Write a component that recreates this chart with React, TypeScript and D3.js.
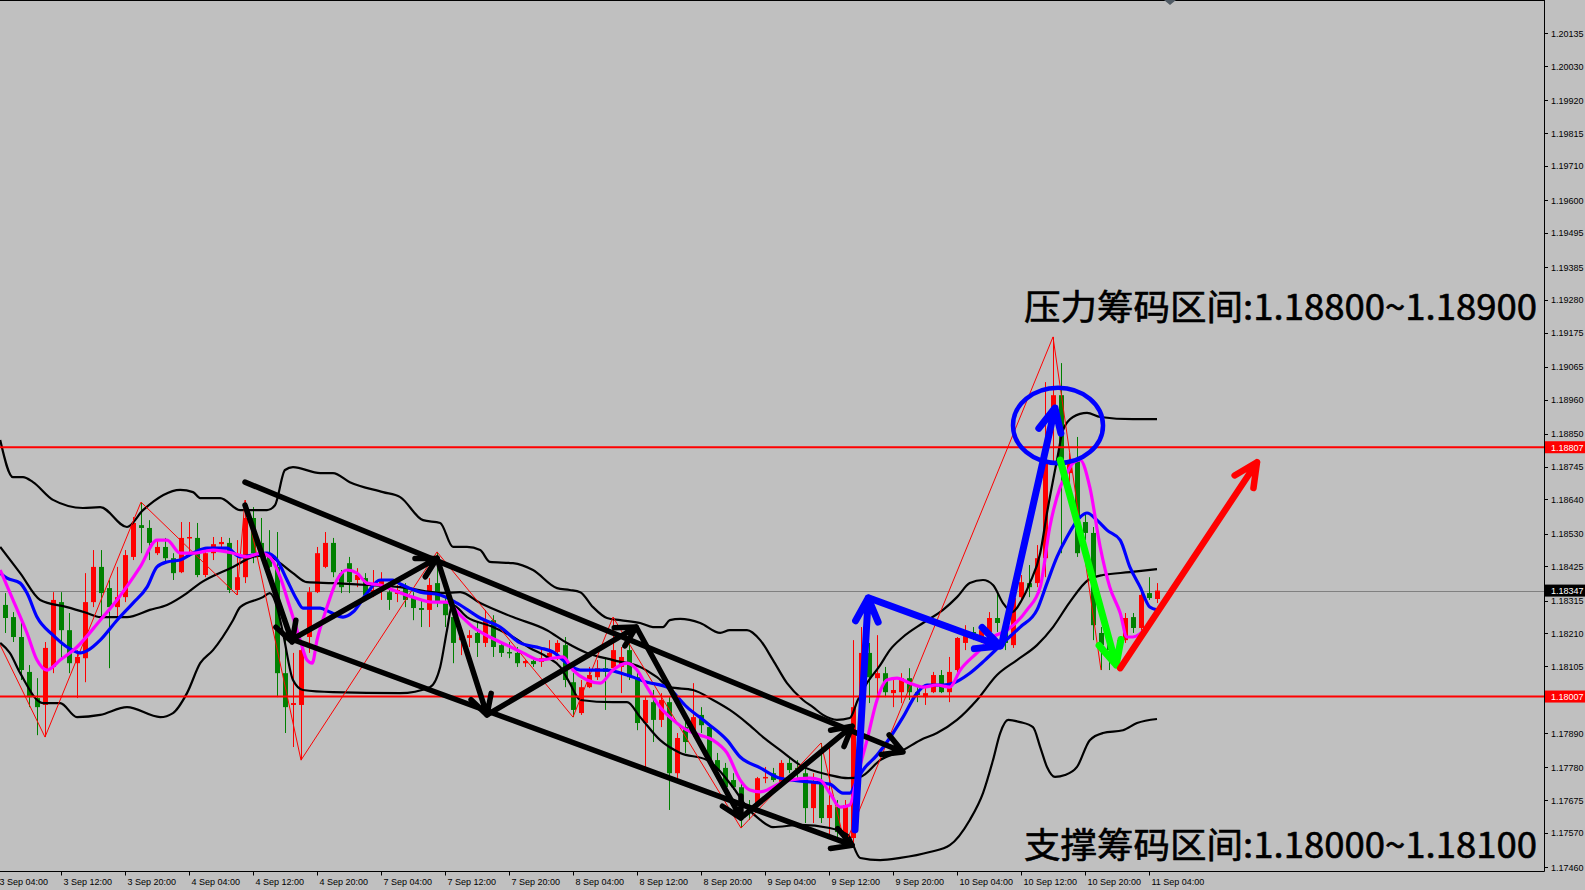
import React, { useEffect } from 'react';
import * as d3 from 'd3';

const W = 1585, H = 890;
const PLOT_R = 1544, PLOT_B = 871.5;

// ---- hourly EURUSD bars (index 0 = 3 Sep 05:00) ----
const barOpen = [1.18301,1.18262,1.18198,1.18086,1.18002,1.17980,1.18102,1.18310,1.18220,1.18114,
1.18130,1.18310,1.18423,1.18355,1.18294,1.18326,1.18455,1.18557,1.18548,1.18467,
1.18487,1.18451,1.18406,1.18516,1.18516,1.18397,1.18467,1.18496,1.18500,1.18349,
1.18390,1.18580,1.18500,1.18467,1.18423,1.18082,1.17980,1.17980,1.18198,1.18342,
1.18423,1.18500,1.18403,1.18435,1.18381,1.18387,1.18339,1.18358,1.18342,1.18336,
1.18358,1.18326,1.18291,1.18285,1.18371,1.18307,1.18262,1.18188,1.18195,1.18211,
1.18179,1.18252,1.18172,1.18150,1.18147,1.18114,1.18121,1.18118,1.18130,1.18150,
1.18172,1.18053,1.17954,1.18037,1.18069,1.18098,1.18098,1.18102,1.18156,1.18069,
1.17922,1.17989,1.17932,1.17989,1.17761,1.17909,1.17890,1.17948,1.17909,1.17803,
1.17778,1.17739,1.17716,1.17643,1.17665,1.17745,1.17761,1.17733,1.17794,1.17778,
1.17761,1.17649,1.17733,1.17617,1.17652,1.17553,1.17553,1.17973,1.18147,1.18066,
1.18082,1.18018,1.18021,1.18066,1.18021,1.18005,1.18021,1.18076,1.18021,1.18092,
1.18179,1.18214,1.18198,1.18214,1.18259,1.18220,1.18172,1.18326,1.18371,1.18371,
1.18451,1.18920,1.18974,1.18724,1.18766,1.18567,1.18532,1.18211,1.18182,1.18140,
1.18188,1.18262,1.18227,1.18339,1.18320];

const barHigh = [1.18339,1.18278,1.18252,1.18108,1.18066,1.18182,1.18342,1.18342,1.18275,1.18156,
1.18403,1.18477,1.18477,1.18381,1.18423,1.18477,1.18583,1.18631,1.18573,1.18509,
1.18516,1.18467,1.18567,1.18567,1.18564,1.18487,1.18519,1.18519,1.18516,1.18509,
1.18637,1.18615,1.18580,1.18541,1.18535,1.18211,1.18147,1.18179,1.18358,1.18487,
1.18535,1.18516,1.18413,1.18455,1.18419,1.18403,1.18413,1.18406,1.18365,1.18365,
1.18371,1.18342,1.18317,1.18387,1.18471,1.18323,1.18275,1.18220,1.18220,1.18243,
1.18285,1.18268,1.18182,1.18182,1.18166,1.18124,1.18130,1.18156,1.18188,1.18188,
1.18198,1.18082,1.18060,1.18102,1.18124,1.18134,1.18262,1.18166,1.18179,1.18082,
1.18005,1.18028,1.18018,1.18005,1.17890,1.17932,1.18050,1.17973,1.17922,1.17826,
1.17794,1.17761,1.17729,1.17675,1.17749,1.17781,1.17778,1.17803,1.17813,1.17803,
1.17781,1.17761,1.17858,1.17845,1.17675,1.17675,1.18188,1.18230,1.18179,1.18204,
1.18102,1.18069,1.18082,1.18098,1.18037,1.18034,1.18086,1.18092,1.18134,1.18198,
1.18236,1.18230,1.18236,1.18278,1.18339,1.18230,1.18349,1.18397,1.18429,1.18493,
1.19016,1.19161,1.19077,1.18788,1.18840,1.18596,1.18551,1.18230,1.18220,1.18188,
1.18275,1.18275,1.18342,1.18390,1.18371];

const barLow = [1.18211,1.18182,1.18060,1.17973,1.17883,1.17877,1.18082,1.18124,1.18082,1.18002,
1.18053,1.18294,1.18252,1.18098,1.18252,1.18310,1.18445,1.18467,1.18445,1.18461,
1.18435,1.18381,1.18403,1.18455,1.18390,1.18390,1.18445,1.18483,1.18339,1.18333,
1.18371,1.18435,1.18445,1.18419,1.18005,1.17890,1.17845,1.17803,1.18147,1.18339,
1.18419,1.18390,1.18339,1.18339,1.18358,1.18326,1.18326,1.18317,1.18285,1.18310,
1.18294,1.18252,1.18230,1.18230,1.18294,1.18230,1.18114,1.18140,1.18166,1.18134,
1.18166,1.18134,1.18134,1.18130,1.18102,1.18102,1.18102,1.18102,1.18124,1.18124,
1.18037,1.17941,1.17948,1.18034,1.18060,1.17964,1.18086,1.18018,1.18060,1.17899,
1.17781,1.17861,1.17909,1.17643,1.17739,1.17826,1.17877,1.17890,1.17794,1.17749,
1.17697,1.17707,1.17585,1.17611,1.17652,1.17729,1.17733,1.17716,1.17761,1.17739,
1.17601,1.17601,1.17601,1.17556,1.17556,1.17530,1.17524,1.17941,1.17986,1.17996,
1.18005,1.17973,1.17986,1.17996,1.17989,1.17980,1.18018,1.18018,1.17989,1.18082,
1.18156,1.18188,1.18179,1.18204,1.18214,1.18156,1.18163,1.18317,1.18326,1.18358,
1.18390,1.18759,1.18467,1.18660,1.18455,1.18509,1.18188,1.18092,1.18092,1.18098,
1.18179,1.18211,1.18214,1.18317,1.18307];

const barClose = [1.18259,1.18198,1.18092,1.18005,1.17973,1.18163,1.18317,1.18220,1.18114,1.18134,
1.18310,1.18423,1.18339,1.18294,1.18326,1.18461,1.18564,1.18548,1.18500,1.18487,
1.18451,1.18403,1.18516,1.18519,1.18397,1.18467,1.18496,1.18503,1.18349,1.18390,
1.18580,1.18467,1.18455,1.18423,1.18082,1.17973,1.17986,1.18156,1.18342,1.18467,
1.18500,1.18406,1.18358,1.18374,1.18397,1.18333,1.18349,1.18381,1.18317,1.18349,
1.18317,1.18291,1.18285,1.18365,1.18307,1.18268,1.18179,1.18198,1.18204,1.18179,
1.18252,1.18166,1.18147,1.18147,1.18114,1.18121,1.18111,1.18130,1.18147,1.18179,
1.18060,1.17964,1.18037,1.18076,1.18098,1.18086,1.18156,1.18134,1.18069,1.17922,
1.17996,1.17932,1.17996,1.17761,1.17874,1.17861,1.17941,1.17915,1.17803,1.17771,
1.17716,1.17716,1.17665,1.17633,1.17745,1.17749,1.17739,1.17794,1.17771,1.17761,
1.17649,1.17733,1.17617,1.17659,1.17572,1.17659,1.17973,1.18147,1.18069,1.18082,
1.18021,1.18028,1.18066,1.18021,1.18012,1.18018,1.18076,1.18021,1.18086,1.18195,
1.18214,1.18198,1.18220,1.18259,1.18243,1.18179,1.18323,1.18374,1.18358,1.18451,
1.18766,1.18974,1.18766,1.18766,1.18467,1.18532,1.18236,1.18172,1.18156,1.18156,
1.18259,1.18227,1.18333,1.18323,1.18347];

// ---- indicator lines: [bar index, price] vertices ----
const upperBand = [[-0.6,1.18830],[1,1.18711],[2.25,1.18711],[3.5,1.18695],[6,1.18638],[9.75,1.18612],[11.9,1.18615],[15.25,1.18551],[17.25,1.18605],[21.9,1.18670],[23.5,1.18663],[24.4,1.18644],[26.9,1.18644],[29.4,1.18605],[32.75,1.18605],[33.75,1.18621],[35,1.18734],[36,1.18743],[39.4,1.18724],[41,1.18724],[43.1,1.18695],[47.25,1.18663],[49.4,1.18647],[52.25,1.18573],[54.4,1.18564],[56,1.18487],[57.75,1.18487],[59.4,1.18477],[60.6,1.18439],[63.5,1.18435],[66,1.18413],[69,1.18355],[70.6,1.18349],[71.9,1.18342],[73.5,1.18294],[75.25,1.18259],[76.9,1.18252],[79.4,1.18243],[81,1.18230],[82.25,1.18230],[83.1,1.18252],[84.4,1.18256],[86.9,1.18243],[89.4,1.18211],[90.6,1.18220],[92.75,1.18220],[94.4,1.18188],[96,1.18124],[97.75,1.18050],[99.75,1.17996],[101,1.17973],[102.25,1.17948],[104,1.17932],[105.6,1.17938],[106.6,1.17996],[107.6,1.18044],[109.4,1.18108],[110.6,1.18156],[112.25,1.18198],[114.75,1.18243],[117.25,1.18285],[119,1.18326],[120.6,1.18371],[122.25,1.18381],[123.5,1.18365],[124.75,1.18307],[125.9,1.18278],[127.1,1.18317],[128.1,1.18371],[129.4,1.18467],[130.25,1.18596],[131.5,1.18766],[132.25,1.18862],[133.5,1.18904],[135.25,1.18917],[136.9,1.18904],[141,1.18897],[144,1.18897]];

const middleBand = [[-0.6,1.18487],[1.9,1.18403],[4.4,1.18317],[7.75,1.18294],[10.25,1.18275],[11.9,1.18262],[15.25,1.18262],[18.1,1.18285],[20.25,1.18301],[22.75,1.18339],[24.4,1.18371],[28.5,1.18423],[31,1.18455],[32.75,1.18461],[34.4,1.18435],[36,1.18403],[37.75,1.18374],[41,1.18371],[45.25,1.18365],[49.4,1.18358],[54.75,1.18339],[56.9,1.18342],[59.4,1.18307],[63.5,1.18262],[67.75,1.18220],[70.25,1.18179],[72.75,1.18147],[76,1.18124],[79.4,1.18102],[81.5,1.18069],[83.1,1.18037],[86,1.18028],[88.5,1.17996],[90.6,1.17964],[92.75,1.17922],[94.75,1.17877],[96.9,1.17835],[99.4,1.17787],[103.1,1.17755],[105.4,1.17745],[106.9,1.17749],[109.4,1.17803],[112.25,1.17835],[114.4,1.17867],[116.5,1.17890],[119,1.17932],[121.5,1.17996],[124,1.18076],[126.5,1.18124],[129,1.18172],[131,1.18230],[133.1,1.18310],[135.4,1.18381],[137.25,1.18397],[140.6,1.18406],[144,1.18416]];

const lowerBand = [[-0.6,1.18179],[0.6,1.18147],[1.9,1.18082],[4.75,1.17986],[6.9,1.17986],[9,1.17941],[11.9,1.17948],[15.25,1.17973],[19.4,1.17941],[21,1.17954],[22.75,1.18018],[24.4,1.18114],[26,1.18156],[28.5,1.18252],[29.4,1.18294],[32.25,1.18326],[33.1,1.18339],[34,1.18294],[34.75,1.18211],[36,1.18060],[37.25,1.18028],[41,1.18021],[49.4,1.18018],[53.1,1.18037],[54.4,1.18102],[55.25,1.18220],[55.9,1.18301],[57.75,1.18262],[61,1.18230],[63.5,1.18198],[65.6,1.18163],[67.75,1.18134],[69.4,1.18102],[70.6,1.18050],[71.9,1.17996],[76,1.17989],[77.75,1.17989],[79.4,1.17941],[81.9,1.17867],[84.4,1.17826],[87.75,1.17803],[91,1.17716],[92.75,1.17652],[94.4,1.17611],[96,1.17588],[99.4,1.17595],[103.1,1.17585],[105.4,1.17562],[106.9,1.17489],[109.4,1.17482],[111.9,1.17489],[115.6,1.17508],[118.1,1.17530],[120.6,1.17611],[122.25,1.17697],[123.5,1.17803],[124.4,1.17890],[125.4,1.17932],[126.9,1.17925],[128.5,1.17909],[129.4,1.17845],[130.25,1.17781],[131.25,1.17749],[132.5,1.17755],[134,1.17781],[135.6,1.17867],[137.25,1.17890],[139.75,1.17899],[141.5,1.17922],[144,1.17935]];

const blueMA = [[-0.6,1.18403],[0.25,1.18387],[1.9,1.18371],[2.75,1.18339],[4,1.18262],[6,1.18204],[7.75,1.18166],[9.4,1.18147],[10.4,1.18156],[11.9,1.18188],[14,1.18252],[16,1.18307],[17.75,1.18358],[19,1.18423],[20.25,1.18439],[21.9,1.18445],[23.5,1.18467],[25.25,1.18483],[27.75,1.18483],[29.4,1.18455],[31,1.18461],[32.75,1.18467],[34,1.18445],[35.25,1.18381],[36.5,1.18317],[37.25,1.18291],[39.4,1.18291],[40.6,1.18278],[42.25,1.18262],[43.5,1.18278],[45.25,1.18339],[46.9,1.18381],[48.5,1.18381],[49.4,1.18368],[51.9,1.18342],[54.4,1.18333],[56.5,1.18307],[59.4,1.18259],[61.9,1.18230],[64.4,1.18179],[66.9,1.18163],[68.5,1.18150],[70.25,1.18114],[71.9,1.18092],[75.25,1.18092],[77.75,1.18076],[80.25,1.18053],[82.75,1.18037],[85.25,1.17973],[87.75,1.17922],[90.25,1.17867],[91.9,1.17813],[94.4,1.17778],[96.9,1.17745],[100.6,1.17733],[103.1,1.17726],[104.75,1.17697],[105.6,1.17697],[106.5,1.17739],[107.25,1.17771],[109,1.17819],[110.6,1.17874],[112.25,1.17941],[114,1.18018],[115.25,1.18044],[117.25,1.18044],[118.5,1.18050],[120.6,1.18082],[122.5,1.18124],[124.75,1.18179],[126.9,1.18230],[129,1.18285],[130.25,1.18371],[131.5,1.18455],[132.75,1.18519],[134.4,1.18583],[135.25,1.18596],[136.5,1.18573],[137.75,1.18541],[139.4,1.18509],[140.6,1.18423],[141.9,1.18358],[143.1,1.18294],[144,1.18285]];

const magentaMA = [[-0.6,1.18413],[1,1.18317],[2.75,1.18211],[4,1.18124],[5.25,1.18092],[6.9,1.18124],[9,1.18166],[11.9,1.18252],[14,1.18317],[16.9,1.18423],[19,1.18509],[20.25,1.18509],[21.9,1.18467],[23.5,1.18467],[26,1.18477],[28.5,1.18467],[30.25,1.18455],[31.9,1.18467],[33.1,1.18455],[34.4,1.18390],[35.6,1.18294],[36.9,1.18188],[37.75,1.18124],[38.4,1.18114],[39,1.18188],[40.25,1.18294],[41.5,1.18381],[42.75,1.18413],[44,1.18403],[45.25,1.18371],[46.9,1.18365],[48.5,1.18349],[51,1.18326],[53.5,1.18310],[55.25,1.18310],[56.9,1.18268],[58.5,1.18230],[60.6,1.18198],[62.75,1.18172],[64.75,1.18147],[66.9,1.18124],[68.5,1.18130],[69.75,1.18134],[71,1.18092],[72.75,1.18060],[74.4,1.18050],[76,1.18092],[77.75,1.18114],[79,1.18092],[80.25,1.18037],[81.9,1.17973],[83.5,1.17932],[85.25,1.17899],[86.9,1.17883],[88.5,1.17867],[90.25,1.17826],[91.9,1.17739],[93.1,1.17707],[94.4,1.17701],[96.9,1.17729],[98.1,1.17739],[100.6,1.17745],[101.9,1.17739],[103.1,1.17697],[104.4,1.17652],[105.6,1.17659],[106.5,1.17749],[107.75,1.17867],[109,1.17996],[110.25,1.18060],[111.5,1.18066],[113.1,1.18050],[114.75,1.18037],[116.5,1.18044],[118.1,1.18037],[119.4,1.18092],[121.5,1.18147],[123.5,1.18198],[125.25,1.18220],[127.75,1.18285],[129.4,1.18358],[130.6,1.18551],[131.9,1.18679],[132.75,1.18724],[133.5,1.18756],[134.4,1.18766],[135.6,1.18679],[136.9,1.18487],[138.1,1.18358],[139.4,1.18275],[140.25,1.18198],[141,1.18198],[142.75,1.18230],[144,1.18275]];

const zigzag = [[-0.6,1.18172],[5,1.17877],[17,1.18631],[29,1.18333],[30,1.18637],[37,1.17803],[54,1.18471],[71,1.17941],[76,1.18262],[92,1.17585],[102,1.17858],[105,1.17530],[131,1.19161],[137,1.18092]];

// ---- axes ----
const timeLabels = ["3 Sep 04:00","3 Sep 12:00","3 Sep 20:00","4 Sep 04:00","4 Sep 12:00","4 Sep 20:00","7 Sep 04:00","7 Sep 12:00","7 Sep 20:00","8 Sep 04:00","8 Sep 12:00","8 Sep 20:00","9 Sep 04:00","9 Sep 12:00","9 Sep 20:00","10 Sep 04:00","10 Sep 12:00","10 Sep 20:00","11 Sep 04:00"];
const timeLabelBars = [-1,7,15,23,31,39,47,55,63,71,79,87,95,103,111,119,127,135,143];
const priceTicks = [1.20135,1.20030,1.19920,1.19815,1.19710,1.19600,1.19495,1.19385,1.19280,1.19175,1.19065,1.18960,1.18850,1.18745,1.18640,1.18530,1.18425,1.18315,1.18210,1.18105,1.17995,1.17890,1.17780,1.17675,1.17570,1.17460];

// ---- levels & annotations ----
const resistanceLevel = 1.18807;
const supportLevel = 1.18007;
const lastPrice = 1.18347;
const blackArrows = [[30,1.18695,112.25,1.17829],[35.1,1.18198,105.9,1.17530],[30,1.18621,35.9,1.18182],[36,1.18192,54,1.18451],[54,1.18451,60.25,1.17948],[60.25,1.17948,78.9,1.18230],[78.9,1.18230,92,1.17617],[92.25,1.17623,105.9,1.17912]];
const blueArrows = [[106.25,1.17579,107.9,1.18323],[108,1.18323,124.4,1.18169],[124.6,1.18176,131.25,1.18933]];
const greenArrow = [131.9,1.18766,138.9,1.18108];
const redArrow = [139.4,1.18098,156.5,1.18759];
const circleBox = [126, 1.18998, 137.25, 1.18756];
const resistanceText = "压力筹码区间:1.18800~1.18900";
const supportText = "支撑筹码区间:1.18000~1.18100";

const xS = d3.scaleLinear().domain([0, 144]).range([5, 1157]);
const yS = d3.scaleLinear().domain([1.17460, 1.20135]).range([867, 33.4]);

function arrowPath(a: number[], len: number, ang: number) {
  const x1 = xS(a[0]), y1 = yS(a[1]), x2 = xS(a[2]), y2 = yS(a[3]);
  const t = Math.atan2(y2 - y1, x2 - x1);
  const b1x = x2 - len * Math.cos(t - ang), b1y = y2 - len * Math.sin(t - ang);
  const b2x = x2 - len * Math.cos(t + ang), b2y = y2 - len * Math.sin(t + ang);
  return `M${x1},${y1}L${x2},${y2}M${b1x},${b1y}L${x2},${y2}L${b2x},${b2y}`;
}

const lineGen = d3.line<number[]>().x(d => xS(d[0])).y(d => yS(d[1]));
const smoothGen = d3.line<number[]>().x(d => xS(d[0])).y(d => yS(d[1])).curve(d3.curveMonotoneX);

export default function App() {
  useEffect(() => {
    document.body.style.margin = '0';
    document.body.style.overflow = 'hidden';
  }, []);
  const axisFont = '"Liberation Sans", Arial, sans-serif';
  const cjkFont = '"Noto Sans CJK SC", sans-serif';
  const bars = barOpen.map((o, i) => ({ i, o, h: barHigh[i], l: barLow[i], c: barClose[i] }));
  const boxes: [number, string][] = [[resistanceLevel, '#ff0000'], [supportLevel, '#ff0000'], [lastPrice, '#000000']];
  // axis labels hidden underneath a highlighted price box are not drawn
  const visibleTicks = priceTicks.filter(p => boxes.every(([b]) => Math.abs(yS(p) - yS(b)) > 9));
  return (
    <svg width={W} height={H} style={{ position: 'absolute', left: 0, top: 0, display: 'block' }}>
      <rect x={0} y={0} width={W} height={H} fill="#c0c0c0" />
      <defs>
        <clipPath id="plot"><rect x={0} y={1} width={PLOT_R} height={PLOT_B - 1} /></clipPath>
      </defs>
      <g clipPath="url(#plot)">
        <line x1={0} x2={PLOT_R} y1={Math.round(yS(lastPrice)) + 0.5} y2={Math.round(yS(lastPrice)) + 0.5} stroke="#808080" strokeWidth={1} />
        {bars.map(b => {
          const up = b.c >= b.o;
          const col = up ? '#ff0000' : '#008000';
          const cx = Math.round(xS(b.i));
          const yt = yS(Math.max(b.o, b.c)), yb = yS(Math.min(b.o, b.c));
          return (
            <g key={b.i}>
              <line x1={cx + 0.5} x2={cx + 0.5} y1={yS(b.h)} y2={yS(b.l)} stroke={col} strokeWidth={1} />
              <rect x={cx - 2} y={yt} width={5} height={Math.max(1.5, yb - yt)} fill={col} />
            </g>
          );
        })}
        {[upperBand, middleBand, lowerBand].map((band, k) => (
          <path key={k} d={smoothGen(band) || ''} fill="none" stroke="#000" strokeWidth={2.2} strokeLinejoin="round" />
        ))}
        <path d={lineGen(zigzag) || ''} fill="none" stroke="#ff0000" strokeWidth={1} />
        <path d={smoothGen(blueMA) || ''} fill="none" stroke="#0000ff" strokeWidth={3.2} strokeLinejoin="round" />
        <path d={smoothGen(magentaMA) || ''} fill="none" stroke="#ff00ff" strokeWidth={3.2} strokeLinejoin="round" />
        {[resistanceLevel, supportLevel].map((lv, k) => (
          <line key={k} x1={0} x2={PLOT_R} y1={yS(lv)} y2={yS(lv)} stroke="#ff0000" strokeWidth={2} />
        ))}
        {blackArrows.map((a, k) => (
          <path key={k} d={arrowPath(a, 22, 0.5)} fill="none" stroke="#000" strokeWidth={5.5} strokeLinecap="round" strokeLinejoin="round" />
        ))}
        {blueArrows.map((a, k) => (
          <path key={k} d={arrowPath(a, 26, 0.45)} fill="none" stroke="#0000ff" strokeWidth={7} strokeLinecap="round" strokeLinejoin="round" />
        ))}
        <ellipse cx={(xS(circleBox[0]) + xS(circleBox[2])) / 2} cy={(yS(circleBox[1]) + yS(circleBox[3])) / 2}
          rx={(xS(circleBox[2]) - xS(circleBox[0])) / 2} ry={(yS(circleBox[3]) - yS(circleBox[1])) / 2}
          fill="none" stroke="#0000ff" strokeWidth={4.5} />
        <path d={arrowPath(greenArrow, 26, 0.45)} fill="none" stroke="#00ff00" strokeWidth={7} strokeLinecap="round" strokeLinejoin="round" />
        <path d={arrowPath(redArrow, 26, 0.45)} fill="none" stroke="#ff0000" strokeWidth={6.5} strokeLinecap="round" strokeLinejoin="round" />
        <text x={1024} y={320} textLength={513} lengthAdjust="spacingAndGlyphs" fontFamily={cjkFont} fontSize={35} fill="#000" stroke="#000" strokeWidth={0.6}>{resistanceText}</text>
        <text x={1024} y={858} textLength={513} lengthAdjust="spacingAndGlyphs" fontFamily={cjkFont} fontSize={35} fill="#000" stroke="#000" strokeWidth={0.6}>{supportText}</text>
      </g>
      <line x1={0} x2={PLOT_R} y1={0.5} y2={0.5} stroke="#000" />
      <line x1={PLOT_R + 0.5} x2={PLOT_R + 0.5} y1={0} y2={PLOT_B} stroke="#000" />
      <line x1={0} x2={PLOT_R + 0.5} y1={PLOT_B} y2={PLOT_B} stroke="#000" />
      <path d="M1164,0L1176,0L1170,5Z" fill="#505a64" />
      {priceTicks.map(p => (
        <line key={'t' + p} x1={PLOT_R} x2={PLOT_R + 4} y1={Math.round(yS(p)) + 0.5} y2={Math.round(yS(p)) + 0.5} stroke="#000" />
      ))}
      {visibleTicks.map(p => (
        <text key={'l' + p} x={1551} y={yS(p) + 3.5} fontFamily={axisFont} fontSize={9} fill="#000">{p.toFixed(5)}</text>
      ))}
      {boxes.map(([p, col]) => (
        <g key={String(p)}>
          <rect x={PLOT_R + 1} y={yS(p) - 6} width={W - PLOT_R - 1} height={12} fill={col} />
          <text x={1551} y={yS(p) + 3.5} fontFamily={axisFont} fontSize={9} fill="#fff">{p.toFixed(5)}</text>
        </g>
      ))}
      {timeLabels.map((t, k) => {
        const x = Math.round(xS(timeLabelBars[k])) + 0.5;
        return (
          <g key={t}>
            <line x1={x} x2={x} y1={PLOT_B} y2={PLOT_B + 4} stroke="#000" />
            <text x={x + 2} y={885} fontFamily={axisFont} fontSize={9} fill="#000">{t}</text>
          </g>
        );
      })}
    </svg>
  );
}
